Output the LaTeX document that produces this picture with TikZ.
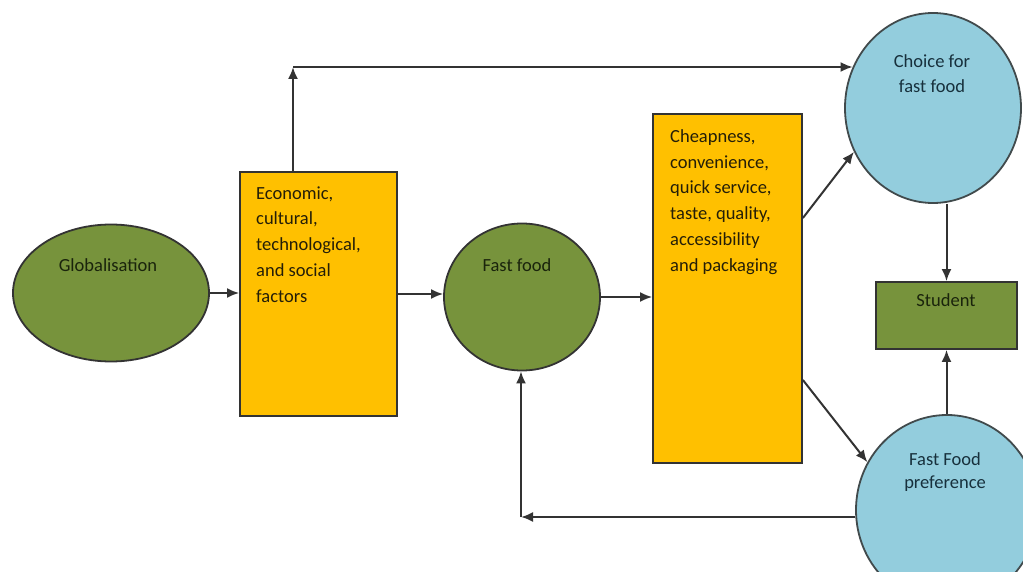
\documentclass[tikz,border=0pt]{standalone}
\usepackage{fontspec}
\setmainfont{Carlito}
\usetikzlibrary{shapes.geometric,arrows.meta}
\definecolor{olive}{HTML}{77933C}
\definecolor{amber}{HTML}{FFC000}
\definecolor{skyb}{HTML}{93CDDD}
\definecolor{lncol}{HTML}{333333}
\definecolor{txtg}{HTML}{1A240C}
\definecolor{txty}{HTML}{241E08}
\definecolor{txtb}{HTML}{17303C}
\tikzset{
  greenell/.style={ellipse, draw=lncol, line width=1.8pt, fill=olive, inner sep=0pt},
  yellowbox/.style={rectangle, draw=lncol, line width=1.8pt, fill=amber, inner sep=0pt},
  blueell/.style={ellipse, draw=lncol!85!skyb, line width=1.8pt, fill=skyb, inner sep=0pt},
  greenbox/.style={rectangle, draw=lncol, line width=1.8pt, fill=olive, inner sep=0pt},
  lbl/.style={inner sep=0pt, font=\fontsize{18.5}{25.75}\selectfont},
  arr/.style={draw=lncol, line width=2pt, -{Latex[length=12pt,width=10pt]}},
}
\begin{document}
\begin{tikzpicture}[x=1pt,y=-1pt]
\useasboundingbox (0,0) rectangle (1023,572);
\clip (0,0) rectangle (1023,572);
% shapes
\node[greenell, minimum width=196pt, minimum height=137pt] (glob) at (111,293) {};
\node[yellowbox, minimum width=157pt, minimum height=244pt] (box1) at (318.5,294) {};
\node[greenell, minimum width=156pt, minimum height=147pt] (ff) at (522,297) {};
\node[yellowbox, minimum width=149pt, minimum height=349pt] (box2) at (727.5,288.5) {};
\node[blueell, minimum width=176pt, minimum height=190pt] (choice) at (933,108) {};
\node[greenbox, minimum width=141pt, minimum height=67pt] (student) at (946.5,315.5) {};
\node[blueell, minimum width=182pt, minimum height=190pt] (pref) at (947,510) {};
% texts (base anchor = baseline of last line)
\node[lbl, text=txtg, anchor=base] (tglob) at (108,272) {Globalisation};
\node[lbl, text=txty, anchor=base west, align=left] (tbox1) at (256,302) {Economic,\\cultural,\\technological,\\and social\\factors};
\node[lbl, text=txtg, anchor=base] (tff) at (517,272) {Fast food};
\node[lbl, text=txty, anchor=base west, align=left, font=\fontsize{18.5}{26}\selectfont] (tbox2) at (670,272) {Cheapness,\\convenience,\\quick service,\\taste, quality,\\accessibility\\and packaging};
\node[lbl, text=txtb, anchor=base, align=center, font=\fontsize{18.5}{25}\selectfont] (tchoice) at (932,93) {Choice for\\fast food};
\node[lbl, text=txtg, anchor=base] (tstudent) at (946,306) {Student};
\node[lbl, text=txtb, anchor=base, align=center, font=\fontsize{18.5}{23.5}\selectfont] (tpref) at (945,488.5) {Fast Food\\preference};
% connector corners
\coordinate (c1) at (293,67);
\coordinate (c2) at (521,517);
% connectors
\draw[arr] (glob.east) -- (glob.east -| box1.west);
\draw[arr] (box1.east) -- (box1.east -| ff.west);
\draw[arr] (ff.east) -- (ff.east -| box2.west);
\draw[arr] (box1.north -| c1) -- (c1);
\draw[arr] (c1) -- (c1 -| choice.153);
\draw[arr] (box2.east |- 0,218) -- (choice.209);
\draw[arr] (box2.east |- 0,380) -- (pref.149);
\draw[arr] (choice.south -| student.north) -- (student.north);
\draw[arr] (pref.north -| student.south) -- (student.south);
\draw[arr] (c2 -| pref.west) -- (c2);
\draw[arr] (c2) -- (ff.south -| c2);
\end{tikzpicture}
\end{document}
